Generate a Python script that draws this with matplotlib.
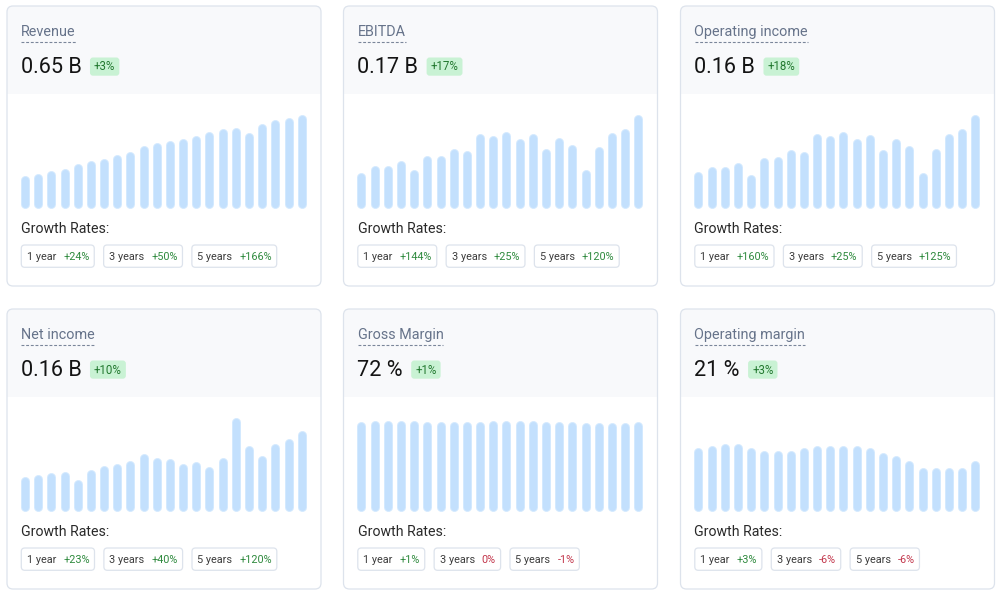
import matplotlib.pyplot as plt
from matplotlib.patches import FancyBboxPatch, Rectangle

plt.rcParams['font.family'] = ['Roboto', 'DejaVu Sans']

W, H = 996, 590

titles = ['Revenue', 'EBITDA', 'Operating income',
          'Net income', 'Gross Margin', 'Operating margin']
headline = ['0.65 B', '0.17 B', '0.16 B', '0.16 B', '72 %', '21 %']
change = ['+3%', '+17%', '+18%', '+10%', '+1%', '+3%']

# quarterly history (B for the money ones, % for margins)
revenue = [0.226, 0.240, 0.263, 0.277, 0.308, 0.333, 0.349, 0.375, 0.394, 0.433, 0.454,
           0.473, 0.485, 0.506, 0.531, 0.552, 0.564, 0.524, 0.589, 0.617, 0.631, 0.650]
ebitda = [0.065, 0.0773, 0.078, 0.086, 0.071, 0.095, 0.096, 0.109, 0.105, 0.136, 0.132,
          0.140, 0.127, 0.135, 0.109, 0.128, 0.116, 0.0697, 0.112, 0.137, 0.1453, 0.170]
op_income = [0.063, 0.071, 0.072, 0.079, 0.058, 0.086, 0.089, 0.101, 0.097, 0.128, 0.124,
             0.132, 0.119, 0.127, 0.100, 0.120, 0.108, 0.0615, 0.102, 0.128, 0.1356, 0.160]
net_income = [0.069, 0.0727, 0.077, 0.080, 0.064, 0.084, 0.092, 0.095, 0.101, 0.114, 0.107,
              0.104, 0.095, 0.098, 0.089, 0.107, 0.186, 0.130, 0.110, 0.134, 0.1455, 0.160]
gross_margin = [72, 73, 73, 73, 73, 72, 72, 72, 72, 72, 73,
                73, 73, 73, 72, 72, 72, 71, 71, 71, 71, 72]
op_margin = [26, 27, 28, 28, 26, 25, 25, 25, 26, 27, 27,
             27, 27, 26, 24, 23, 21, 18, 18, 18, 18, 21]

periods = ['1 year', '3 years', '5 years']
growth_revenue = ['+24%', '+50%', '+166%']
growth_ebitda = ['+144%', '+25%', '+120%']
growth_op_income = ['+160%', '+25%', '+125%']
growth_net_income = ['+23%', '+40%', '+120%']
growth_gross_margin = ['+1%', '0%', '-1%']
growth_op_margin = ['+3%', '-6%', '-6%']

series = [revenue, ebitda, op_income, net_income, gross_margin, op_margin]
growth = [growth_revenue, growth_ebitda, growth_op_income,
          growth_net_income, growth_gross_margin, growth_op_margin]
y_top = [None, None, None, None, 75, 38.4]   # margin charts use a fixed scale

card_x = [7, 343.5, 680.5]
card_y = [6, 309]
card_w, card_h = 314, 280
header_h = 88

title_c = '#66738a'
border_c = '#dde3ec'
green = '#2f8a3e'
red = '#c2364b'
bar_c = '#c3e0fd'
bar_edge = '#d3e9fe'

fig = plt.figure(figsize=(W / 100, H / 100), dpi=100)
fig.patch.set_facecolor('white')
bg = fig.add_axes([0, 0, 1, 1])
bg.set_xlim(0, W)
bg.set_ylim(H, 0)
bg.axis('off')
renderer = fig.canvas.get_renderer()


def width_of(t):
    return t.get_window_extent(renderer).width


for k in range(6):
    x0 = card_x[k % 3]
    y0 = card_y[k // 3]

    card = FancyBboxPatch((x0, y0), card_w, card_h,
                          boxstyle='round,pad=0,rounding_size=6',
                          facecolor='white', edgecolor='none')
    bg.add_patch(card)
    head = Rectangle((x0, y0), card_w, header_h, facecolor='#f8f9fb', edgecolor='none')
    bg.add_patch(head)
    head.set_clip_path(card)
    bg.add_patch(FancyBboxPatch((x0, y0), card_w, card_h,
                                boxstyle='round,pad=0,rounding_size=6',
                                facecolor='none', edgecolor=border_c, lw=0.9))

    # title with dashed underline
    t = bg.text(x0 + 14, y0 + 30, titles[k], fontsize=10.4, color=title_c, va='baseline')
    tw = width_of(t)
    bg.plot([x0 + 14, x0 + 14 + tw], [y0 + 36.3, y0 + 36.3], color='#7a869a',
            lw=0.8, dashes=(2.6, 1.6))

    # headline value + change badge
    v = bg.text(x0 + 13.8, y0 + 66.7, headline[k], fontsize=15.6, color='#141414',
                va='baseline')
    vw = width_of(v)
    bx = x0 + 13.8 + vw + 8.3
    b = bg.text(bx + 4.0, y0 + 61, change[k], fontsize=8.3, color='#22782f', va='center')
    bw = width_of(b) + 8.0
    bg.add_patch(FancyBboxPatch((bx, y0 + 51.5), bw, 18.2,
                                boxstyle='round,pad=0,rounding_size=3',
                                facecolor='#c9f2d4', edgecolor='none', zorder=1))

    # bar chart
    vals = series[k]
    top = y_top[k] if y_top[k] is not None else max(vals)
    ax_l, ax_r = x0 + 11.4, x0 + 301.3
    ax_t, ax_b = y0 + 108.7, y0 + 202.3
    ax = fig.add_axes([ax_l / W, 1 - ax_b / H, (ax_r - ax_l) / W, (ax_b - ax_t) / H])
    ax.set_xlim(-0.5, len(vals) - 0.5)
    ax.set_ylim(0, top)
    ax.axis('off')
    r = 4.5 / (ax_b - ax_t) * top
    xs = list(range(len(vals)))
    ax.vlines(xs, [r] * len(vals), [val - r for val in vals], colors=bar_edge,
              linewidth=9 * 0.72, capstyle='round', clip_on=False)
    ax.vlines(xs, [r] * len(vals), [val - r for val in vals], colors=bar_c,
              linewidth=7 * 0.72, capstyle='round', clip_on=False)

    # growth rates
    bg.text(x0 + 14, y0 + 226.7, 'Growth Rates:', fontsize=10.2, color='#2a2a2a',
            va='baseline')
    px = x0 + 14.3
    for label, g in zip(periods, growth[k]):
        lt = bg.text(px + 5.4, y0 + 250.6, label, fontsize=7.8, color='#3c3c3c', va='center')
        lw_ = width_of(lt)
        gt = bg.text(px + 5.4 + lw_ + 7.0, y0 + 250.6, g, fontsize=7.8,
                     color=green if g.startswith('+') else red, va='center')
        pw = 5.4 + lw_ + 7.0 + width_of(gt) + 4.8
        bg.add_patch(FancyBboxPatch((px, y0 + 239), pw, 22.3,
                                    boxstyle='round,pad=0,rounding_size=3.5',
                                    facecolor='white', edgecolor=border_c, lw=0.9))
        px += pw + 9.4

fig.savefig('out.png', dpi=100)
